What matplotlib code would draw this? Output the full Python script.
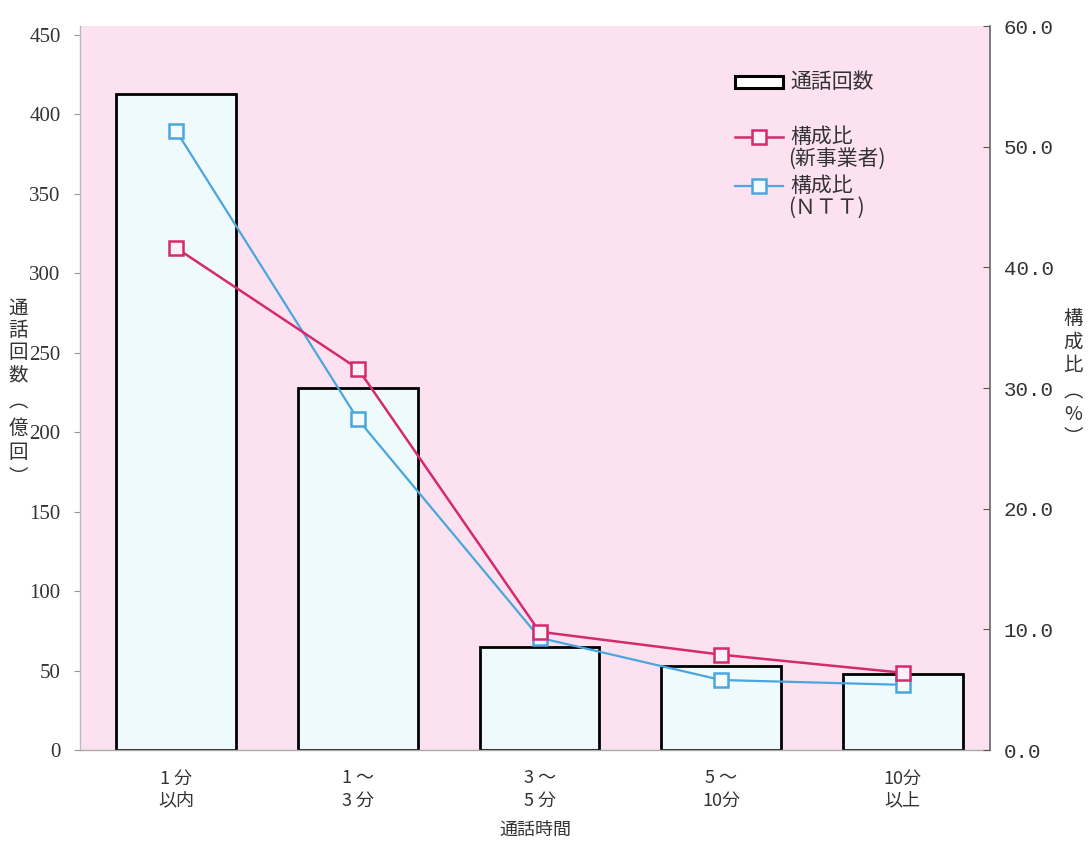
import matplotlib
matplotlib.use("Agg")
import matplotlib.pyplot as plt
from matplotlib.lines import Line2D
from matplotlib.patches import Rectangle

plt.rcParams['font.family'] = ['Noto Sans CJK JP', 'DejaVu Sans']

# 通話時間別の通話回数と構成比
categories = ["1 分\n以内", "1 ～\n3 分", "3 ～\n5 分", "5 ～\n10分", "10分\n以上"]
calls = [413, 228, 65, 53, 48]                 # 通話回数（億回）
share_new = [41.6, 31.6, 9.8, 7.9, 6.4]        # 構成比（新事業者）%
share_ntt = [51.3, 27.4, 9.3, 5.8, 5.4]        # 構成比（NTT）%
left_ticks = [0, 50, 100, 150, 200, 250, 300, 350, 400, 450]
right_ticks = [0, 10, 20, 30, 40, 50, 60]

PINK = "#fce2f0"
BAR_FACE = "#eefafc"
MAGENTA = "#d42a6e"
BLUE = "#4aa6de"
TEXT = "#333333"

W, H = 1088, 847
fig = plt.figure(figsize=(W / 100, H / 100), dpi=100)


def fx(px):
    return px / W


def fy(py):
    return 1 - py / H


ax = fig.add_axes([fx(80), fy(750), fx(990) - fx(80), fy(26) - fy(750)])
ax.set_facecolor(PINK)

x = list(range(len(categories)))
ax.bar(x, calls, width=0.66, color=BAR_FACE, edgecolor="black", linewidth=2.0, zorder=2)
ax.set_xlim(-0.53, 4.48)
ax.set_ylim(0, 455.7)
ax.set_yticks(left_ticks)
ax.set_yticklabels([str(v) for v in left_ticks], family="Liberation Serif", fontsize=15, color=TEXT)
ax.tick_params(axis="y", direction="out", length=4, color="#999999", pad=10)
ax.set_xticks(x)
ax.set_xticklabels(categories, fontsize=13, linespacing=1.3, color=TEXT)
ax.tick_params(axis="x", length=0, pad=14)
ax.set_xlabel("通話時間", fontsize=13, color=TEXT, labelpad=8)

for side in ("top", "right"):
    ax.spines[side].set_visible(False)
ax.spines["left"].set_color("#bbbbbb")
ax.spines["left"].set_linewidth(1.0)
ax.spines["bottom"].set_color("#aaaaaa")
ax.spines["bottom"].set_linewidth(1.0)

ax2 = ax.twinx()
ax2.set_ylim(0, 60)
ntt_style = dict(color=BLUE, linewidth=1.6, marker="s", markersize=9.5,
                 markerfacecolor="#f4fbff", markeredgecolor=BLUE, markeredgewidth=1.8)
new_style = dict(color=MAGENTA, linewidth=1.8, marker="s", markersize=9.5,
                 markerfacecolor="#fdf0f6", markeredgecolor=MAGENTA, markeredgewidth=1.8)
ax2.plot(x, share_ntt, zorder=3, **ntt_style)
ax2.plot(x, share_new, zorder=4, **new_style)
ax2.set_yticks(right_ticks)
ax2.set_yticklabels([f"{v:.1f}" for v in right_ticks], family="Liberation Mono", fontsize=15, color=TEXT)
ax2.tick_params(axis="y", direction="in", length=5, color="#555555", pad=10)
for side in ("top", "left", "bottom"):
    ax2.spines[side].set_visible(False)
ax2.spines["right"].set_color("#666666")
ax2.spines["right"].set_linewidth(1.2)


def vertical_label(xpx, chars, ypos):
    # 縦書き：文字を一つずつ積む（括弧は縦書き用の字形）
    for ch, ypx in zip(chars, ypos):
        fig.text(fx(xpx), fy(ypx), ch, ha="center", va="center",
                 fontsize=14, color=TEXT)


vertical_label(18, "通話回数︵億回︶", [308, 330, 352, 375, 402, 428, 452, 477])
vertical_label(1073, "構成比︵%︶", [318, 342, 366, 392, 414, 437])

# 凡例
fig.add_artist(Rectangle((fx(735), fy(88)), fx(783) - fx(735), fy(76) - fy(88),
                         facecolor="white", edgecolor="black", linewidth=2.2,
                         transform=fig.transFigure))
fig.text(fx(790), fy(82), "通話回数", ha="left", va="center", fontsize=15, color=TEXT)
for ypx, style, sub in [(137, new_style, "(新事業者)"), (186, ntt_style, "(ＮＴＴ)")]:
    line_style = {k: v for k, v in style.items() if not k.startswith("marker")}
    fig.add_artist(Line2D([fx(735), fx(783)], [fy(ypx), fy(ypx)],
                          transform=fig.transFigure, **line_style))
    marker_style = {k: v for k, v in style.items() if k not in ("linewidth", "color")}
    fig.add_artist(Line2D([fx(759)], [fy(ypx)], transform=fig.transFigure,
                          linestyle="none", **marker_style))
    fig.text(fx(790), fy(ypx), "構成比", ha="left", va="center", fontsize=15, color=TEXT)
    fig.text(fx(788), fy(ypx + 22), sub, ha="left", va="center", fontsize=15, color=TEXT)

fig.savefig("out.png", dpi=100)
